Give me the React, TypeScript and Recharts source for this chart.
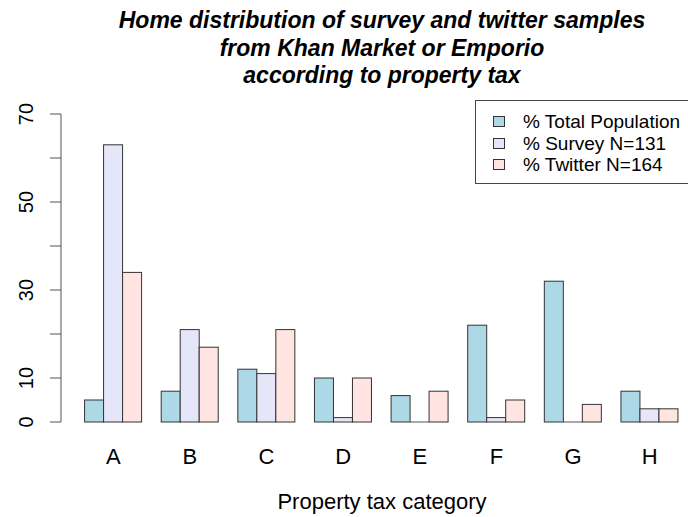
import { Bar, BarChart, Legend, XAxis, YAxis } from "recharts";

const CATEGORIES = ["A", "B", "C", "D", "E", "F", "G", "H"];
const TOTAL_POPULATION = [5, 7, 12, 10, 6, 22, 32, 7];
const SURVEY = [63, 21, 11, 1, 0, 1, 0, 3];
const TWITTER = [34, 17, 21, 10, 7, 5, 4, 3];
const Y_TICKS = [0, 10, 20, 30, 40, 50, 60, 70];
const Y_LABELED = [0, 10, 30, 50, 70];
const TITLE_LINES = [
  "Home distribution of survey and twitter samples",
  "from Khan Market or Emporio",
  "according to property tax",
];

const SERIES = [
  { key: "total", label: "% Total Population", color: "#ADD8E6" },
  { key: "survey", label: "% Survey N=131", color: "#E6E6FA" },
  { key: "twitter", label: "% Twitter N=164", color: "#FFE4E1" },
] as const;

const FONT = "'Liberation Sans', Arial, Helvetica, sans-serif";
const W = 688;
const H = 517;

const data = CATEGORIES.map((cat, i) => ({
  cat,
  total: TOTAL_POPULATION[i],
  survey: SURVEY[i],
  twitter: TWITTER[i],
}));

// base R draws zero-height rects as a flat line, mimic that
function OutlinedBar(props: any) {
  const { x, y, width, height, fill } = props;
  if (!height || Math.abs(height) < 0.5) {
    return (
      <line x1={x} x2={x + width} y1={y} y2={y} stroke="#555" strokeWidth={1} />
    );
  }
  return (
    <rect x={x} y={y} width={width} height={height} fill={fill} stroke="#333" strokeWidth={1} />
  );
}

function XTick(props: any) {
  const { x, y, payload } = props;
  return (
    <text x={x} y={y + 42} textAnchor="middle" fontSize={22} fill="#000" fontFamily={FONT}>
      {payload.value}
    </text>
  );
}

function YTick(props: any) {
  const { y, payload } = props;
  if (!Y_LABELED.includes(payload.value)) return null;
  return (
    <text
      x={33}
      y={y}
      transform={`rotate(-90, 33, ${y})`}
      textAnchor="middle"
      fontSize={20}
      fill="#000"
      fontFamily={FONT}
    >
      {payload.value}
    </text>
  );
}

// R-style boxed legend, fixed series order
function BoxLegend() {
  return (
    <div
      style={{
        position: "absolute",
        left: 475,
        top: 100,
        width: 240,
        height: 84,
        border: "1px solid #444",
        boxSizing: "border-box",
        fontFamily: FONT,
        fontSize: 19,
        color: "#000",
        paddingTop: 10,
      }}
    >
      {SERIES.map((s) => (
        <div
          key={s.key}
          style={{ display: "flex", alignItems: "center", height: 21.5, lineHeight: "21.5px" }}
        >
          <span
            style={{
              display: "inline-block",
              width: 12,
              height: 11,
              marginLeft: 17,
              marginRight: 18,
              background: s.color,
              border: "1px solid #333",
              boxSizing: "border-box",
            }}
          />
          <span style={{ whiteSpace: "nowrap" }}>{s.label}</span>
        </div>
      ))}
    </div>
  );
}

export default function App() {
  return (
    <div
      style={{
        position: "absolute",
        left: 0,
        top: 0,
        width: W,
        height: H,
        overflow: "hidden",
        background: "#fff",
      }}
    >
      <BarChart
        width={W}
        height={H}
        data={data}
        margin={{ top: 114, right: 0, left: 0, bottom: 55 }}
        barCategoryGap="12.5%"
        barGap={0}
      >
        <XAxis
          dataKey="cat"
          axisLine={false}
          tickLine={false}
          tickSize={0}
          tickMargin={0}
          height={40}
          padding={{ left: 14, right: 0 }}
          tick={<XTick />}
          interval={0}
        />
        <YAxis
          width={61}
          domain={[0, 70]}
          ticks={Y_TICKS}
          interval={0}
          tickSize={11}
          axisLine={{ stroke: "#555" }}
          tickLine={{ stroke: "#555" }}
          tick={<YTick />}
        />
        <Legend content={<BoxLegend />} wrapperStyle={{ position: "absolute", left: 0, top: 0 }} />
        {SERIES.map((s) => (
          <Bar
            key={s.key}
            dataKey={s.key}
            name={s.label}
            fill={s.color}
            shape={<OutlinedBar />}
            isAnimationActive={false}
          />
        ))}
      </BarChart>
      <svg
        width={W}
        height={H}
        style={{ position: "absolute", left: 0, top: 0, pointerEvents: "none" }}
      >
        {TITLE_LINES.map((line, i) => (
          <text
            key={line}
            x={382}
            y={28 + i * 27.5}
            textAnchor="middle"
            fontSize={23}
            fontWeight="bold"
            fontStyle="italic"
            fontFamily={FONT}
            fill="#000"
          >
            {line}
          </text>
        ))}
        <text x={382} y={509} textAnchor="middle" fontSize={22} fontFamily={FONT} fill="#000">
          Property tax category
        </text>
      </svg>
    </div>
  );
}
